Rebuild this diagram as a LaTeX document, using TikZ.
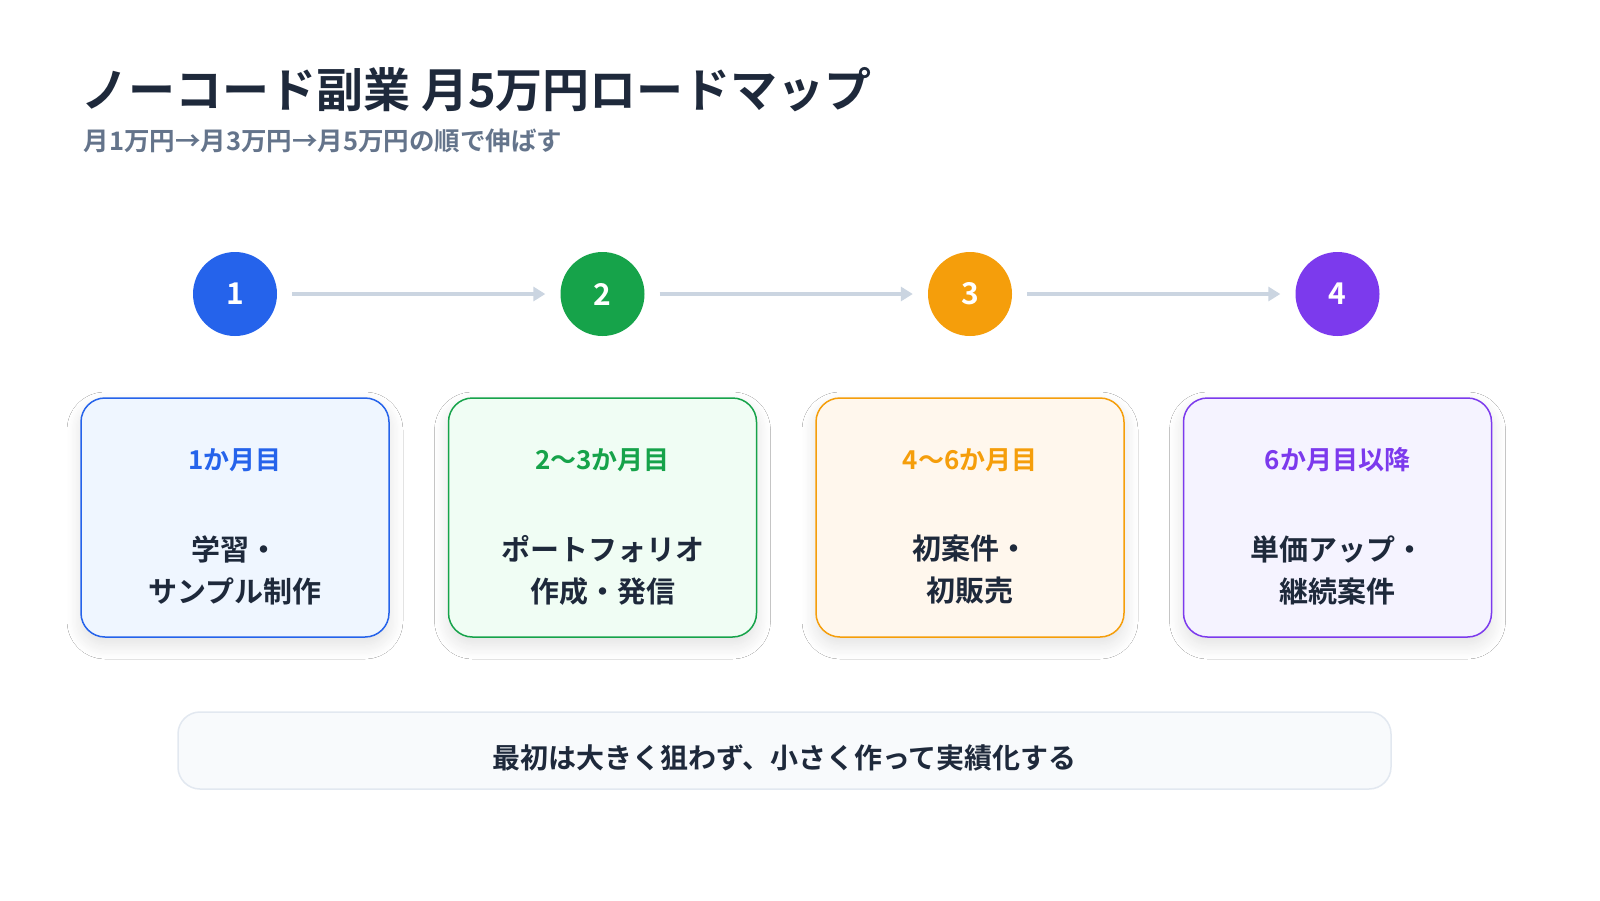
\documentclass[tikz,border=0pt]{standalone}
\usepackage{fontspec}
\setmainfont{Noto Sans CJK JP}[BoldFont={* Bold}]
\usetikzlibrary{shadows.blur,arrows.meta}
\definecolor{cb}{HTML}{2563EB}\definecolor{cg}{HTML}{16A34A}
\definecolor{co}{HTML}{F59E0B}\definecolor{cp}{HTML}{7C3AED}
\definecolor{fb}{HTML}{EFF6FF}\definecolor{fg}{HTML}{F0FDF4}
\definecolor{fo}{HTML}{FFF7ED}\definecolor{fp}{HTML}{F5F3FF}
\definecolor{ink}{HTML}{1E293B}\definecolor{sub}{HTML}{64748B}
\definecolor{ln}{HTML}{CBD5E1}\definecolor{slate}{HTML}{F8FAFC}
\definecolor{bd}{HTML}{E2E8F0}
\tikzset{
 num/.style={circle,minimum size=84pt,fill=#1,text=white,font=\bfseries\fontsize{30}{30}\selectfont},
 card/.style={draw=#1,line width=1.5pt,rounded corners=24pt,minimum width=308pt,minimum height=239pt,blur shadow={shadow blur steps=12,shadow blur radius=14pt,shadow xshift=0pt,shadow yshift=-8pt,shadow opacity=12}},
 lab/.style={text=#1,font=\bfseries\fontsize{26}{26}\selectfont},
 body/.style={text=ink,align=center,font=\bfseries\fontsize{29}{42}\selectfont},
 conn/.style={draw=ln,line width=4pt,-{Triangle[length=12pt,width=14pt]}}
}
\begin{document}
\begin{tikzpicture}[x=1pt,y=-1pt]
\useasboundingbox[fill=white] (0,0) rectangle (1600,900);
\node[anchor=west,text=ink,font=\bfseries\fontsize{47}{47}\selectfont] (t) at (78,90) {ノーコード副業 月5万円ロードマップ};
\node[anchor=west,text=sub,font=\bfseries\fontsize{25.5}{25.5}\selectfont] (s) at (80,141) {月1万円→月3万円→月5万円の順で伸ばす};
\foreach \i/\x/\c/\f/\l/\b in {1/235/cb/fb/1か月目/{学習・\\サンプル制作},2/602.5/cg/fg/2〜3か月目/{ポートフォリオ\\作成・発信},3/970/co/fo/4〜6か月目/{初案件・\\初販売},4/1337.5/cp/fp/6か月目以降/{単価アップ・\\継続案件}}{
 \node[num=\c] (n\i) at (\x,294) {\i};
 \node[card=\c,fill=\f] (c\i) at (\x,517.5) {};
 \node[lab=\c] (l\i) at (\x,460) {\l};
 \node[body] (b\i) at (\x,570) {\b};
}
\foreach \a/\b in {1/2,2/3,3/4}{
 \draw[conn] ([xshift=15pt]n\a.east) -- ([xshift=-15pt]n\b.west);
}
\node[draw=bd,fill=slate,line width=1.5pt,rounded corners=22pt,minimum width=1213pt,minimum height=77pt] (f) at (784.5,750.5) {};
\node[text=ink,font=\bfseries\fontsize{28}{28}\selectfont] (ft) at (784.5,758) {最初は大きく狙わず、小さく作って実績化する};
\end{tikzpicture}
\end{document}
